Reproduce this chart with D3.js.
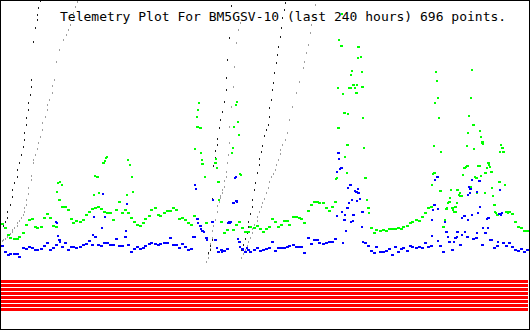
<!DOCTYPE html>
<html>
<head>
<meta charset="utf-8">
<style>
  body { margin: 0; background: #fff; }
  svg { display: block; }
  .title { font-family: "DejaVu Sans Mono", monospace; font-size: 13px; fill: #000; }
  rect { shape-rendering: crispEdges; }
</style>
<script src="https://d3js.org/d3.v7.min.js"></script>
</head>
<body>
<script>
var title = "Telemetry Plot For BM5GSV-10 (last 240 hours) 696 points.";
var hours = 240;

// analog channels sampled on a regular grid over the 240 hours (raw 0-255 units)
var green = [38,34,27,24,23,23,25,29,37,42, 43,35,34,35,44,48,44,36,35,62,
  55,55,52,43,39,41,40,42,47,50, 53,54,55,53,50,49,49,42,52,60,
  49,52,49,44,40,37,36,39,43,46, 52,54,47,46,49,51,51,54,52,43,
  44,42,39,37,46,135,134,98,39,null, 40,99,80,40,29,32,40,32,37,40,
  34,30,30,35,34,36,33,30,33,35, 43,40,35,37,41,41,37,45,45,44,
  43,39,51,57,60,60,59,59,54,51, 55,60,134,216,149,117,174,177,169,215,
  175,84,54,34,29,32,31,32,31,33, 33,33,34,33,35,36,39,40,42,41,
  45,49,54,55,89,85,71,35,53,60, 54,55,72,66,94,96,75,137,84,96,
  120,89,99,90,57,47,80,110,50,50, 48,40,35,34,31,31];

var blue = [16,10,7,8,8,8,5,14,13,15, 14,12,12,13,16,19,12,14,17,22,
  15,19,12,15,15,14,15,17,18,21, 17,25,17,16,19,19,17,17,23,16,
  16,25,17,10,13,15,13,14,16,18, 19,18,17,18,19,19,24,17,17,14,
  18,15,12,13,25,43,36,31,24,null, 40,22,10,12,11,13,39,59,61,20,
  13,10,12,10,12,14,11,12,13,14, 20,11,14,14,14,15,16,17,15,15,
  15,9,24,18,22,22,19,18,19,20, 20,23,109,94,42,54,77,47,70,69,
  50,19,16,11,9,15,10,10,11,13, 7,15,10,13,14,11,16,15,14,15,
  14,19,15,16,57,85,16,10,30,20, 12,24,30,17,46,25,73,23,24,81,
  17,29,44,22,14,16,48,19,16,19, 15,12,11,13,10,12];

// readings between grid samples, [hour, value]
var greenExtra = [[25.1,70],[25.6,79],[26.5,80],[27.4,77],
  [42.1,67],[42.5,86],[43.4,85],[43.9,85],[44.3,69],
  [46.2,99],[46.6,99],[47.1,101],[47.5,104],[48.0,105],
  [57.1,67],[57.6,102],[58.5,97],[59.4,85],[59.9,70],
  [88.2,113],[89.1,145],[89.6,152],[90.1,159],[91.0,109],[91.4,102],[92.8,85],
  [97.8,103],[98.3,94],[99.2,62],
  [105.1,109],[105.6,114],[106.0,135],[107.0,157],[107.4,160],[107.9,140],[108.3,127],[108.8,88],[109.2,87],
  [152.7,83],[153.1,84],[153.6,174],[154.0,222],[155.4,248],[155.9,168],[156.8,105],[157.7,89],[158.2,148],
  [158.6,174],[159.5,187],[160.0,191],[161.4,174],[162.3,177],[162.7,204],[164.1,205],[164.6,190],[165.0,144],
  [165.5,114],[166.4,84],[166.8,62],[167.7,49],
  [196.6,77],[197.0,88],[197.5,116],[197.9,159],[198.4,190],[198.8,181],[199.3,164],[199.8,144],[200.7,110],
  [202.0,35],[202.5,42],[203.4,54],[203.9,59],[204.8,64],[205.2,72],[206.2,52],[206.6,50],[207.5,50],
  [208.0,59],[208.9,67],[209.4,69],[210.3,66],[210.7,87],[211.6,94],[212.1,95],[212.6,116],[213.0,129],
  [213.5,146],[214.4,164],[214.8,192],[215.8,113],[216.2,85],[217.1,69],[217.6,96],[218.5,131],[218.9,125],
  [218.9,86],[219.4,119],[219.9,118],[220.8,69],[221.7,94],[222.6,97],[223.1,95],[224.0,74],[224.4,66],
  [225.4,50],[225.8,49],[227.2,80],[227.6,110],[228.1,117],[228.6,114],[229.0,114],[229.5,110],[229.9,77],
  [230.8,50],[231.3,49]];

var blueExtra = [[24.7,40],[25.1,39],[25.6,26],[26.5,20],[41.6,27],[42.1,45],
  [45.7,34],[46.2,68],[47.1,45],[56.7,31],[57.1,58],
  [87.3,25],[88.2,77],[88.7,73],[89.6,39],[91.0,33],[92.3,30],[93.7,22],
  [96.4,62],[97.8,22],[98.3,14],[100.5,10],[103.3,39],[103.8,40],[104.7,40],
  [106.5,84],[107.0,85],[107.4,60],[107.9,23],[108.8,15],[110.2,12],[112.0,14],
  [153.1,46],[153.1,90],[154.0,103],[154.5,93],[155.4,50],[155.9,19],[156.8,47],[157.3,31],
  [158.2,74],[158.6,59],[159.5,40],[160.0,62],[160.4,41],[161.4,71],[162.3,61],[162.7,73],
  [163.6,63],[164.6,35],[165.0,20],
  [196.6,26],[196.6,42],[197.0,52],[197.9,82],[199.3,53],[199.3,21],[202.5,40],[203.4,30],
  [203.9,25],[206.6,20],[208.0,25],[210.3,27],[210.3,44],[211.6,30],[213.0,42],[213.0,67],
  [213.5,75],[214.0,69],[214.8,47],[214.8,82],[217.1,29],[217.1,70],[217.6,49],[218.5,55],
  [219.9,34],[221.7,43],[222.2,34],[223.1,22],[226.7,20],[227.6,72],[228.1,47],[228.6,49]];

// counter channels that wrap past the top of the plot, [hour, value]
var blackCounter = [[0.9,36],[1.4,40],[2.3,44],[2.7,50],[3.7,57],[4.6,65],[5.0,72],[5.9,79],
  [6.9,85],[7.3,92],[7.8,99],[8.7,107],[9.6,115],[10.1,122],[10.5,129],[11.0,137],[11.4,144],
  [11.9,152],[12.3,159],[12.8,167],[13.3,175],[13.7,182],[14.2,220],[15.1,234],[16.0,242],
  [16.2,247],[16.9,254],[17.4,261],
  [94.6,9],[95.1,12],[95.5,16],[96.0,22],[96.4,63],[96.9,96],[97.4,104],[97.8,111],[98.3,117],
  [98.7,123],[99.2,134],[100.1,142],[101.0,150],[101.5,160],[102.4,172],[102.8,184],[103.3,202],
  [104.2,224],[105.1,256],
  [109.7,12],[110.2,17],[111.1,23],[112.0,29],[112.5,35],[112.9,40],[113.8,48],[114.3,55],
  [114.7,62],[115.6,72],[116.1,79],[117.0,89],[117.5,97],[117.9,103],[118.8,110],[119.3,116],
  [120.2,126],[120.7,132],[121.6,137],[122.1,145],[122.5,154],[123.4,162],[123.8,172],[124.3,179],
  [124.7,189],[125.6,199],[126.1,207],[126.5,215],[127.4,225],[127.9,234],[128.3,244],[129.2,252],
  [129.7,259]];

var grayCounter = [[0.0,21],[0.5,22],[1.4,23],[2.3,25],[2.7,27],[3.7,28],[4.6,30],[5.0,32],
  [5.9,34],[6.9,36],[7.3,39],[8.2,41],[9.1,44],[9.6,47],[10.1,50],[10.5,54],[11.0,57],[11.4,62],
  [11.9,68],[12.3,74],[13.3,82],[13.7,86],[14.2,99],[14.6,102],[15.5,107],[16.0,113],[16.9,119],
  [17.4,125],[18.3,132],[18.7,139],[19.7,145],[20.6,152],[21.0,157],[21.9,162],[22.9,169],
  [23.3,176],[24.2,182],[25.1,200],[26.5,212],[27.9,222],[29.3,227],[30.2,232],[31.5,237],
  [32.5,242],[32.9,249],[33.8,255],[34.3,260],
  [93.7,0],[94.2,4],[94.6,8],[95.1,13],[95.5,18],[96.0,24],[96.4,31],[96.9,36],[97.4,42],
  [98.3,50],[98.7,56],[99.2,60],[99.7,64],[100.1,66],[100.6,69],[101.0,72],[101.5,75],[101.9,81],
  [102.4,85],[102.8,90],[103.3,99],[103.4,107],[103.8,119],[104.2,135],[105.1,155],[105.6,175],
  [106.5,195],[107.4,219],[107.9,232],[108.8,239],
  [109.7,4],[110.2,8],[111.1,12],[112.0,16],[112.5,20],[113.4,24],[114.3,29],[114.7,33],
  [115.6,37],[116.6,41],[117.0,45],[117.9,50],[118.8,55],[119.3,59],[120.2,63],[121.1,69],
  [121.6,74],[122.5,80],[123.4,85],[123.9,88],[124.8,92],[125.7,97],[126.2,102],[127.1,108],
  [127.5,112],[128.4,117],[129.4,122],[130.3,129],[131.6,142],[133.0,155],[134.8,169],[136.2,180],
  [137.6,194],[138.1,200],[139.4,209],[139.9,217],[140.8,229],[141.7,237],[142.2,247],[143.1,257],
  [144.0,262]];

// eight digital bits, all set over the whole window
var bits = [1,1,1,1,1,1,1,1];

var width = 530, height = 330;

var x = d3.scaleLinear().domain([0, hours]).range([2, 527]);
var y = d3.scaleLinear().domain([0, 255]).range([262, 7]);
var bitY = d3.scaleBand().domain(d3.range(bits.length)).range([280, 312]);

function onGrid(arr) {
  return arr.map(function(v, i) { return [i * hours / (arr.length - 1), v]; })
            .filter(function(d) { return d[1] != null; });
}

var svg = d3.select("body").append("svg")
    .attr("width", width)
    .attr("height", height);

svg.append("rect")
    .attr("width", width).attr("height", height)
    .attr("fill", "#fff");

function dots(data, color, w, h) {
  svg.append("g")
    .selectAll("rect")
    .data(data)
    .enter()
    .append("rect")
      .attr("x", function(d) { return Math.round(x(d[0]) - w / 2); })
      .attr("y", function(d) { return Math.round(y(d[1]) - h / 2); })
      .attr("width", w)
      .attr("height", h)
      .attr("fill", color);
}

dots(grayCounter, "#a0a0a0", 1, 2);
dots(blackCounter, "#202020", 1, 2);
dots(onGrid(green), "#00ff00", 3, 2);
dots(greenExtra, "#00ff00", 2, 2);
dots(onGrid(blue), "#0000ff", 3, 2);
dots(blueExtra, "#0000ff", 2, 2);

svg.append("g")
  .selectAll("rect")
  .data(bits.map(function(b, i) { return { bit: i, on: b }; }).filter(function(d) { return d.on; }))
  .enter()
  .append("rect")
    .attr("x", x(0) - 1)
    .attr("y", function(d) { return bitY(d.bit); })
    .attr("width", x(hours) - x(0) + 2)
    .attr("height", bitY.bandwidth() - 1)
    .attr("fill", "#ff0000");

svg.append("text")
    .attr("class", "title")
    .attr("x", 60)
    .attr("y", 21)
    .text(title);

svg.append("rect")
    .attr("x", 0.5).attr("y", 0.5)
    .attr("width", width - 1).attr("height", height - 1)
    .attr("fill", "none")
    .attr("stroke", "#000");
</script>
</body>
</html>
